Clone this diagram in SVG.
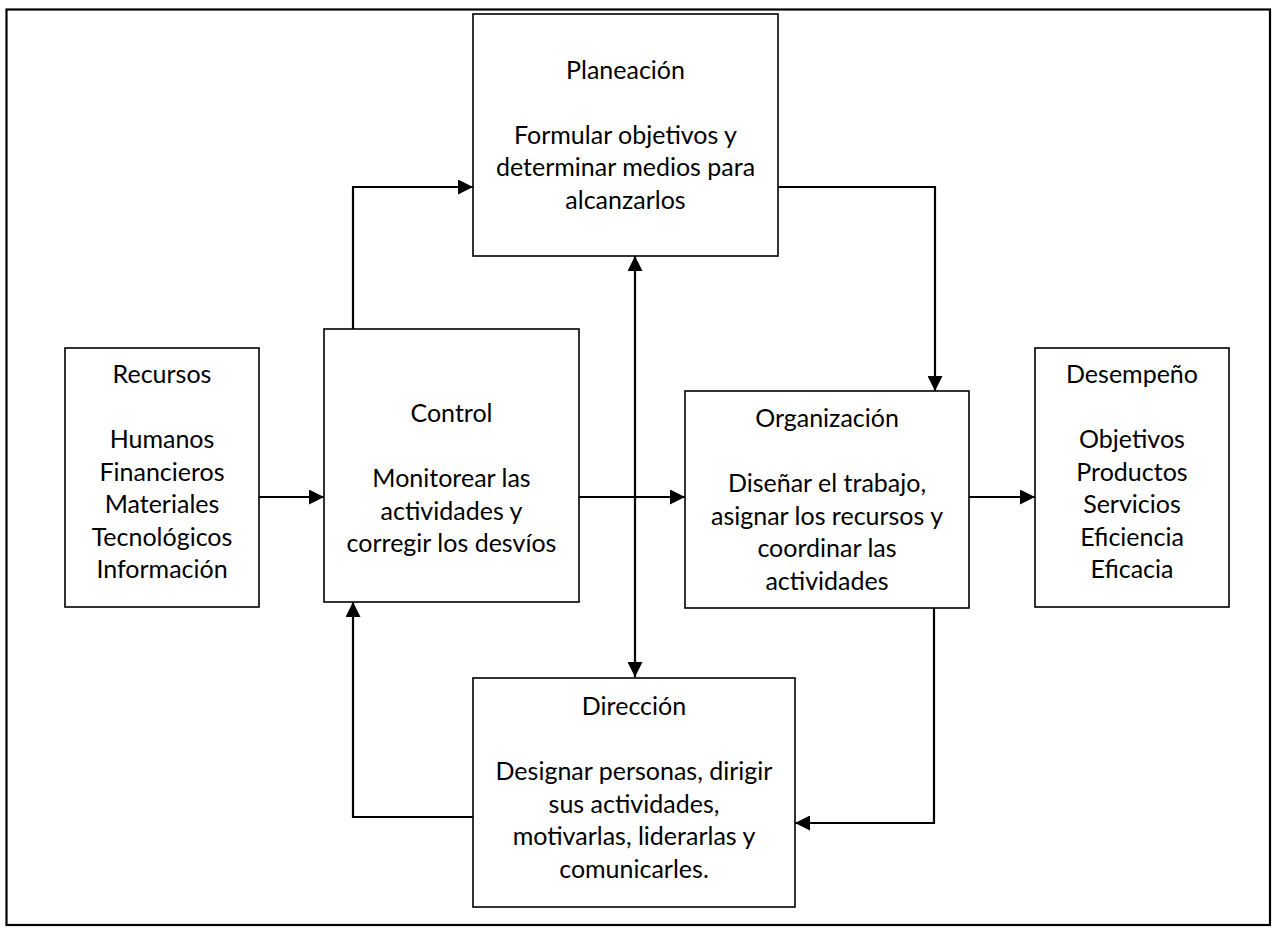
<svg xmlns="http://www.w3.org/2000/svg" width="1273" height="933" viewBox="0 0 1273 933">
  <defs>
    <style>
      .frame { fill: #ffffff; stroke: #000000; stroke-width: 2.2; }
      .box { fill: #ffffff; stroke: #000000; stroke-width: 1.6; }
      .lbl { font-family: Lato, "Liberation Sans", sans-serif; font-size: 25px; fill: #000000; text-anchor: middle; }
      .wire { fill: none; stroke: #000000; stroke-width: 2.2; }
    </style>
    <marker id="arrow" viewBox="0 0 15 15" refX="15" refY="7.5" markerWidth="15" markerHeight="15" markerUnits="userSpaceOnUse" orient="auto">
      <path d="M0,0 L15,7.5 L0,15 Z" fill="#000000"/>
    </marker>
    <marker id="arrowStart" viewBox="0 0 15 15" refX="15" refY="7.5" markerWidth="15" markerHeight="15" markerUnits="userSpaceOnUse" orient="auto-start-reverse">
      <path d="M0,0 L15,7.5 L0,15 Z" fill="#000000"/>
    </marker>
  </defs>

  <rect class="frame" x="6.5" y="9.5" width="1263.5" height="915.5"/>

  <g id="connectors">
    <!-- Recursos to Control -->
    <line class="wire" x1="259" y1="497" x2="324" y2="497" marker-end="url(#arrow)"/>
    <!-- Control up to Planeación -->
    <polyline class="wire" points="353,329 353,187 473,187" marker-end="url(#arrow)"/>
    <!-- Planeación down to Organización -->
    <polyline class="wire" points="778,187 935,187 935,391" marker-end="url(#arrow)"/>
    <!-- Planeación and Dirección, both ways -->
    <line class="wire" x1="635" y1="256" x2="635" y2="677" marker-start="url(#arrowStart)" marker-end="url(#arrow)"/>
    <!-- Control to Organización -->
    <line class="wire" x1="579" y1="497" x2="685" y2="497" marker-end="url(#arrow)"/>
    <!-- Organización to Desempeño -->
    <line class="wire" x1="969" y1="497" x2="1035" y2="497" marker-end="url(#arrow)"/>
    <!-- Organización down to Dirección -->
    <polyline class="wire" points="934,608 934,823 795,823" marker-end="url(#arrow)"/>
    <!-- Dirección back to Control -->
    <polyline class="wire" points="473,817 353,817 353,602" marker-end="url(#arrow)"/>
  </g>

  <g id="recursos">
    <rect class="box" x="65" y="348" width="194" height="259"/>
    <text class="lbl" x="162" y="383">Recursos</text>
    <text class="lbl" x="162" y="448">Humanos</text>
    <text class="lbl" x="162" y="480.5">Financieros</text>
    <text class="lbl" x="162" y="513">Materiales</text>
    <text class="lbl" x="162" y="545.5">Tecnológicos</text>
    <text class="lbl" x="162" y="578">Información</text>
  </g>

  <g id="planeacion">
    <rect class="box" x="473" y="14" width="305" height="242"/>
    <text class="lbl" x="625.5" y="78.5">Planeación</text>
    <text class="lbl" x="625.5" y="143.5">Formular objetivos y</text>
    <text class="lbl" x="625.5" y="176">determinar medios para</text>
    <text class="lbl" x="625.5" y="208.5">alcanzarlos</text>
  </g>

  <g id="control">
    <rect class="box" x="324" y="329" width="255" height="273"/>
    <text class="lbl" x="451.5" y="422">Control</text>
    <text class="lbl" x="451.5" y="487">Monitorear las</text>
    <text class="lbl" x="451.5" y="519.5">actividades y</text>
    <text class="lbl" x="451.5" y="552">corregir los desvíos</text>
  </g>

  <g id="organizacion">
    <rect class="box" x="685" y="391" width="284" height="217"/>
    <text class="lbl" x="827" y="427">Organización</text>
    <text class="lbl" x="827" y="492">Diseñar el trabajo,</text>
    <text class="lbl" x="827" y="524.5">asignar los recursos y</text>
    <text class="lbl" x="827" y="557">coordinar las</text>
    <text class="lbl" x="827" y="589.5">actividades</text>
  </g>

  <g id="desempeno">
    <rect class="box" x="1035" y="348" width="194" height="259"/>
    <text class="lbl" x="1132" y="383">Desempeño</text>
    <text class="lbl" x="1132" y="448">Objetivos</text>
    <text class="lbl" x="1132" y="480.5">Productos</text>
    <text class="lbl" x="1132" y="513">Servicios</text>
    <text class="lbl" x="1132" y="545.5">Eficiencia</text>
    <text class="lbl" x="1132" y="578">Eficacia</text>
  </g>

  <g id="direccion">
    <rect class="box" x="473" y="678" width="322" height="229"/>
    <text class="lbl" x="634" y="715">Dirección</text>
    <text class="lbl" x="634" y="780">Designar personas, dirigir</text>
    <text class="lbl" x="634" y="812.5">sus actividades,</text>
    <text class="lbl" x="634" y="845">motivarlas, liderarlas y</text>
    <text class="lbl" x="634" y="877.5">comunicarles.</text>
  </g>
</svg>
